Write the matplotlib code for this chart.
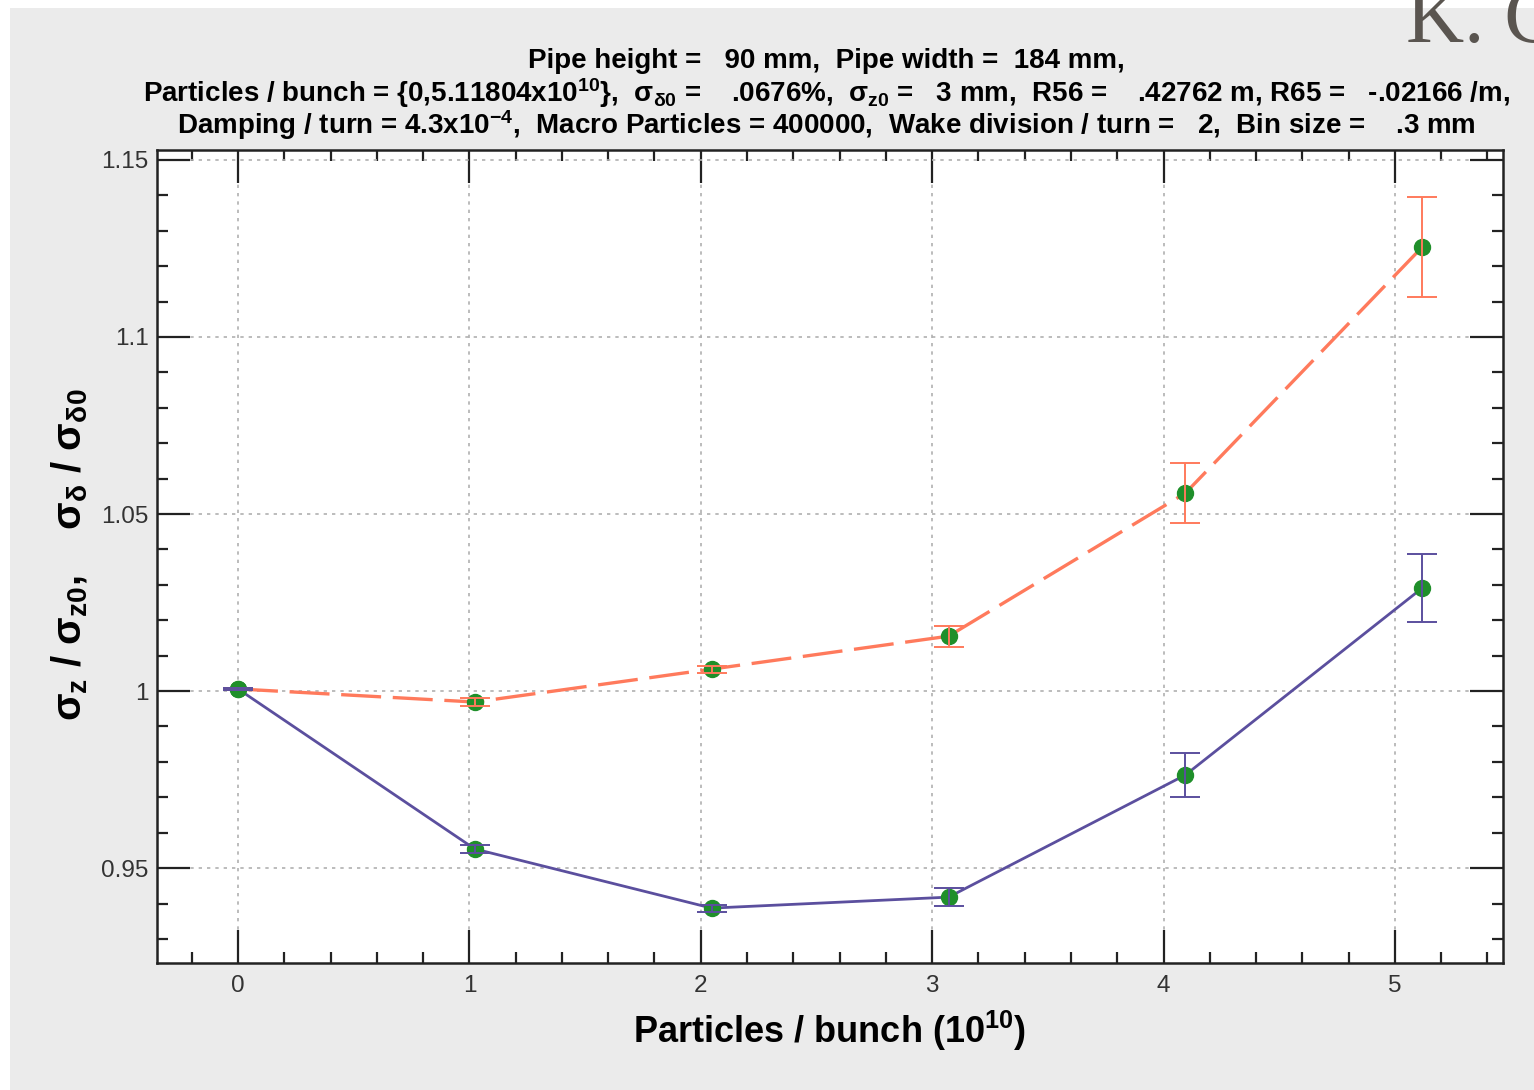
#bunch length and energy spread vs bunch population
import matplotlib
matplotlib.use("Agg")
import matplotlib.pyplot as plt
from matplotlib.patches import Rectangle
from matplotlib.ticker import MultipleLocator, FormatStrFormatter, FuncFormatter

plt.rcParams['font.family'] = ['Liberation Sans', 'DejaVu Sans']
plt.rcParams['mathtext.fontset'] = 'custom'
plt.rcParams['mathtext.rm'] = 'Liberation Sans'
plt.rcParams['mathtext.bf'] = 'Liberation Sans:bold'
plt.rcParams['mathtext.it'] = 'Liberation Sans:italic'
plt.rcParams['mathtext.default'] = 'bf'


# particles per bunch (10^10)
n_bunch = [0, 1.0236, 2.0472, 3.0708, 4.0944, 5.118]

# sigma_delta / sigma_delta0
sig_delta = [1.0006, 0.9969, 1.0062, 1.0155, 1.0559, 1.1254]
sig_delta_err = [0.0004, 0.0010, 0.0010, 0.0030, 0.0085, 0.0140]

# sigma_z / sigma_z0
sig_z = [1.0006, 0.9554, 0.9387, 0.9418, 0.9763, 1.0291]
sig_z_err = [0.0004, 0.0010, 0.0010, 0.0025, 0.0062, 0.0096]

title_lines = [
    "Pipe height =   90 mm,  Pipe width =  184 mm,",
    "Particles / bunch = {0,5.11804x10$^{10}$},  $σ_{δ0}$ =    .0676%,  $σ_{z0}$ =   3 mm,  R56 =    .42762 m, R65 =   -.02166 /m,",
    "Damping / turn = 4.3x10$^{-4}$,  Macro Particles = 400000,  Wake division / turn =   2,  Bin size =    .3 mm",
]

orange = '#ff7a5c'
blue = '#5b4f9e'
green = '#1f8f2a'

fig = plt.figure(figsize=(15.34, 10.90), dpi=100, facecolor='white')
fig.patches.append(Rectangle((10 / 1534, 0), 1, 1082 / 1090, transform=fig.transFigure,
                             facecolor='#ebebeb', edgecolor='none', zorder=-10))

ax = fig.add_axes([157 / 1534, 127 / 1090, 1346 / 1534, 813 / 1090])
ax.set_facecolor('white')

ax.plot(n_bunch, sig_delta, color=orange, lw=2.4, ls=(0, (12, 3.5)), zorder=3)
ax.plot(n_bunch, sig_z, color=blue, lw=2.0, zorder=3)
ax.plot(n_bunch, sig_delta, 'o', color=green, ms=11.5, zorder=4)
ax.plot(n_bunch, sig_z, 'o', color=green, ms=11.5, zorder=4)
ax.errorbar(n_bunch, sig_delta, yerr=sig_delta_err, fmt='none', ecolor=orange,
            elinewidth=1.4, capsize=11, capthick=1.4, zorder=5)
ax.errorbar(n_bunch, sig_z, yerr=sig_z_err, fmt='none', ecolor=blue,
            elinewidth=1.4, capsize=11, capthick=1.4, zorder=5)

ax.set_xlim(-0.35, 5.467)
ax.set_ylim(0.9232, 1.1528)
ax.xaxis.set_major_locator(MultipleLocator(1))
ax.xaxis.set_minor_locator(MultipleLocator(0.2))
ax.yaxis.set_major_locator(MultipleLocator(0.05))
ax.yaxis.set_minor_locator(MultipleLocator(0.01))
ax.yaxis.set_major_formatter(FuncFormatter(lambda v, p: '%g' % round(v, 3)))
ax.xaxis.set_major_formatter(FormatStrFormatter('%d'))

ax.tick_params(which='both', direction='in', top=True, right=True, width=1.6,
               labelsize=17.5, labelcolor='#333333', color='#222222')
ax.tick_params(which='major', length=24)
ax.tick_params(which='minor', length=8)
ax.tick_params(axis='x', pad=9)
ax.tick_params(axis='y', pad=6)
for s in ax.spines.values():
    s.set_linewidth(1.8)
    s.set_color('#222222')

ax.grid(True, which='major', color='#b0b0b0', lw=1.2, ls=(0, (2, 3)))
ax.set_axisbelow(True)

ax.set_xlabel('Particles / bunch (10$^{10}$)', fontsize=26, fontweight='bold', labelpad=8)
fig.text(70 / 1534, 1 - 555 / 1090, '$σ_{z}$ / $σ_{z0}$,    $σ_{δ}$ / $σ_{δ0}$',
         rotation=90, ha='center', va='center', fontsize=29, fontweight='bold')

for i, line in enumerate(title_lines):
    fig.text(826 / 1534, 1 - (61 + 32 * i) / 1090, line, ha='center', va='center',
             fontsize=20, fontweight='bold')

# author tag, cut off by the page edge as in the source screenshot
fig.text(1406 / 1534, 1 - 42 / 1090, 'K. C', family='Liberation Serif', fontsize=58,
         color='#5a5550', ha='left', va='baseline')

plt.savefig('out.png', dpi=100, facecolor=fig.get_facecolor())
